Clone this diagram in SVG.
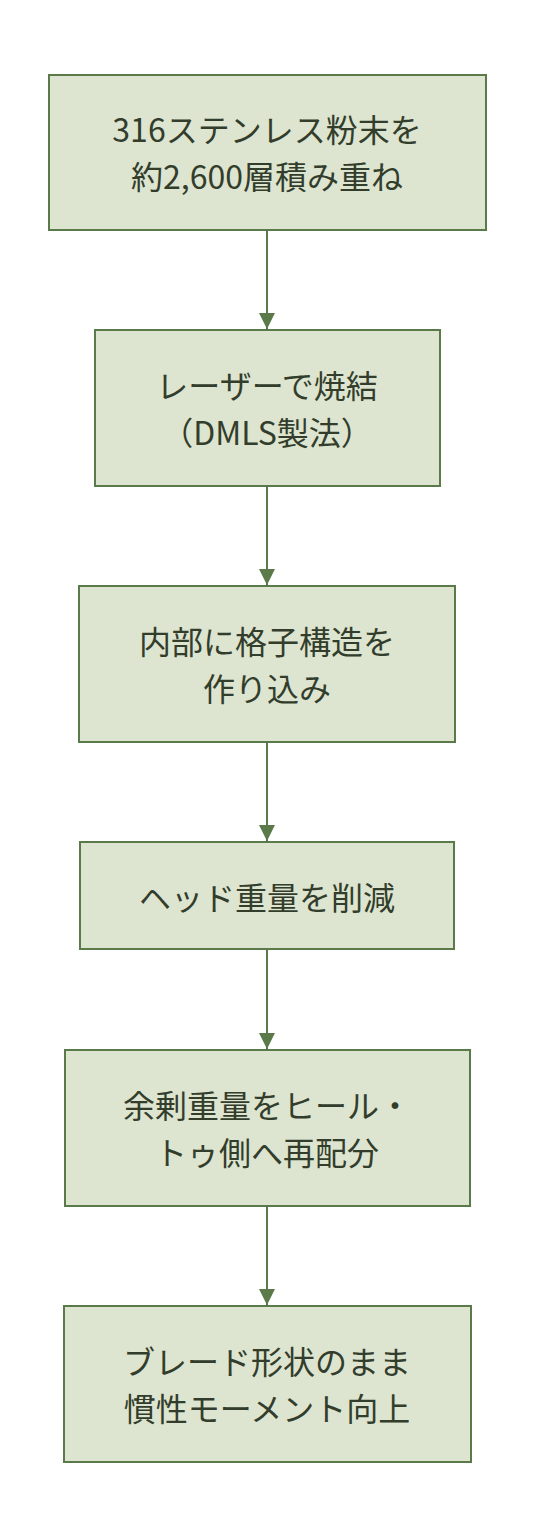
<svg xmlns="http://www.w3.org/2000/svg" width="534" height="1540" viewBox="0 0 534 1540">
  <defs>
    <style>
      .box { fill: #dde5d0; stroke: #5a7a4a; stroke-width: 2; }
      .label { font-family: "Noto Sans CJK JP", "Noto Sans", sans-serif; font-size: 32px; fill: #333d2c; text-anchor: middle; dominant-baseline: central; }
      .edge { stroke: #5a7a4a; stroke-width: 2; fill: none; }
    </style>
    <marker id="arrow" markerUnits="userSpaceOnUse" markerWidth="16" markerHeight="16" viewBox="0 0 16 16" refX="16" refY="8" orient="auto">
      <path d="M0,0 L16,8 L0,16 Z" fill="#5a7a4a"/>
    </marker>
  </defs>

  <rect width="534" height="1540" fill="#ffffff"/>

  <!-- connectors -->
  <g id="edges">
    <line class="edge" x1="267" y1="231" x2="267" y2="329" marker-end="url(#arrow)"/>
    <line class="edge" x1="267" y1="486" x2="267" y2="585" marker-end="url(#arrow)"/>
    <line class="edge" x1="267" y1="742" x2="267" y2="841" marker-end="url(#arrow)"/>
    <line class="edge" x1="267" y1="949" x2="267" y2="1049" marker-end="url(#arrow)"/>
    <line class="edge" x1="267" y1="1206" x2="267" y2="1305" marker-end="url(#arrow)"/>
  </g>

  <!-- nodes -->
  <g id="n1">
    <rect class="box" x="49" y="75" width="437" height="155"/>
    <text class="label" x="267" y="128">316ステンレス粉末を</text>
    <text class="label" x="267" y="175">約2,600層積み重ね</text>
  </g>
  <g id="n2">
    <rect class="box" x="95" y="330" width="345" height="156"/>
    <text class="label" x="267" y="384">レーザーで焼結</text>
    <text class="label" x="267" y="431">（DMLS製法）</text>
  </g>
  <g id="n3">
    <rect class="box" x="79" y="586" width="376" height="156"/>
    <text class="label" x="267" y="640">内部に格子構造を</text>
    <text class="label" x="267" y="687">作り込み</text>
  </g>
  <g id="n4">
    <rect class="box" x="80" y="842" width="374" height="107"/>
    <text class="label" x="267" y="895.5">ヘッド重量を削減</text>
  </g>
  <g id="n5">
    <rect class="box" x="65" y="1050" width="405" height="156"/>
    <text class="label" x="267" y="1104">余剰重量をヒール・</text>
    <text class="label" x="267" y="1151">トゥ側へ再配分</text>
  </g>
  <g id="n6">
    <rect class="box" x="64" y="1306" width="407" height="156"/>
    <text class="label" x="267" y="1360">ブレード形状のまま</text>
    <text class="label" x="267" y="1407">慣性モーメント向上</text>
  </g>
</svg>
